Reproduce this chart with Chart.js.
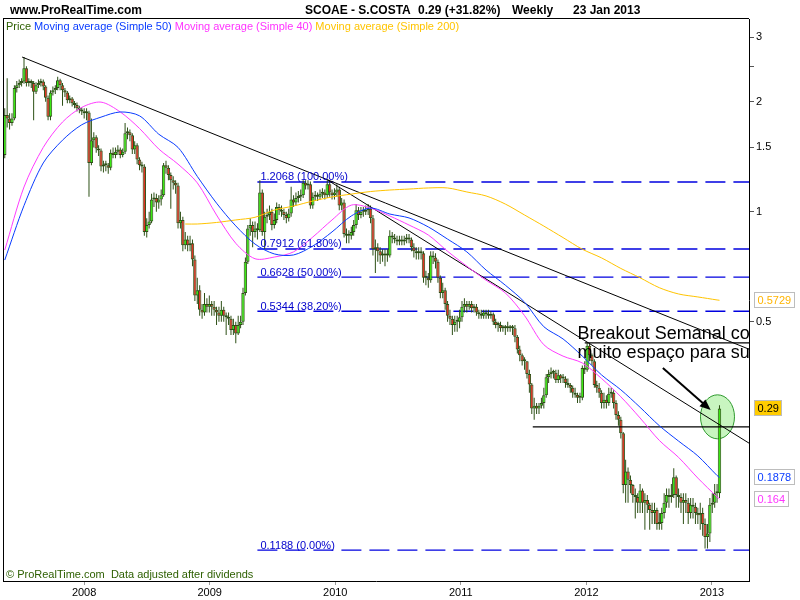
<!DOCTYPE html>
<html>
<head>
<meta charset="utf-8">
<script src="https://cdn.jsdelivr.net/npm/chart.js@4.4.1/dist/chart.umd.min.js"></script>
<style>html,body{margin:0;padding:0;background:#fff}</style>
</head>
<body>
<canvas id="graphCanvas" width="800" height="600"></canvas>
<script>
// weekly bars, last one is 23 Jan 2013
var lastBar = 2013.06;
var firstOpen = 1.43;

var closes = [
 1.84,1.80,1.75,1.80,2.18,2.22,2.25,2.27,2.47,2.25,
 2.27,2.25,2.13,2.22,2.25,2.27,2.20,2.05,1.82,2.12,
 2.15,2.18,2.29,2.22,2.15,2.12,2.02,2.04,1.98,1.96,
 1.92,1.90,1.88,1.86,1.87,1.36,1.57,1.60,1.49,1.47,
 1.33,1.34,1.34,1.32,1.45,1.43,1.46,1.48,1.43,1.46,
 1.64,1.65,1.62,1.48,1.52,1.39,1.34,1.33,0.88,0.92,
 0.94,1.08,1.09,1.06,1.08,1.11,1.34,1.32,1.26,1.22,
 1.20,1.18,0.93,0.95,0.81,0.84,0.81,0.82,0.74,0.59,
 0.61,0.54,0.53,0.56,0.55,0.56,0.55,0.54,0.53,0.52,
 0.54,0.52,0.515,0.51,0.475,0.49,0.465,0.49,0.50,0.60,
 0.73,0.90,0.92,0.88,0.90,0.89,1.13,0.88,0.97,0.98,
 1.00,0.92,0.95,1.03,1.01,1.00,0.98,0.96,0.99,1.08,
 1.06,1.09,1.10,1.11,1.20,1.18,1.19,1.04,1.10,1.11,
 1.10,1.12,1.13,1.11,1.19,1.13,1.11,1.13,1.15,1.04,
 1.06,0.87,0.86,0.86,0.88,0.92,1.01,0.98,1.00,1.00,
 1.01,1.02,0.96,0.79,0.80,0.78,0.76,0.76,0.76,0.76,
 0.86,0.85,0.84,0.83,0.84,0.83,0.84,0.85,0.84,0.80,
 0.78,0.77,0.77,0.77,0.66,0.66,0.65,0.76,0.75,0.73,
 0.66,0.60,0.61,0.56,0.52,0.51,0.49,0.50,0.50,0.515,
 0.55,0.56,0.55,0.56,0.545,0.55,0.53,0.525,0.52,0.53,
 0.525,0.52,0.525,0.50,0.49,0.49,0.48,0.48,0.48,0.48,
 0.48,0.48,0.455,0.42,0.405,0.39,0.39,0.36,0.337,0.29,
 0.295,0.29,0.295,0.30,0.315,0.353,0.36,0.365,0.363,0.347,
 0.357,0.35,0.35,0.34,0.336,0.33,0.32,0.316,0.31,0.31,
 0.374,0.37,0.43,0.405,0.39,0.336,0.33,0.32,0.30,0.306,
 0.30,0.318,0.32,0.30,0.278,0.27,0.248,0.179,0.195,0.185,
 0.179,0.168,0.166,0.16,0.173,0.16,0.163,0.158,0.153,0.15,
 0.153,0.14,0.141,0.15,0.16,0.168,0.166,0.168,0.188,0.168,
 0.166,0.16,0.163,0.16,0.15,0.158,0.156,0.15,0.148,0.15,
 0.14,0.129,0.132,0.158,0.16,0.17,0.17,0.29
];
var highs = [
 1.92,2.32,1.86,1.86,2.22,2.28,2.30,2.32,2.65,2.50,
 2.32,2.30,2.28,2.26,2.30,2.31,2.30,2.22,2.08,2.15,
 2.20,2.22,2.34,2.31,2.25,2.18,2.14,2.08,2.06,2.01,
 1.99,1.95,1.93,1.92,1.92,1.89,1.80,1.65,1.62,1.52,
 1.49,1.38,1.38,1.36,1.48,1.50,1.50,1.52,1.50,1.49,
 1.75,1.70,1.68,1.64,1.56,1.54,1.41,1.37,1.35,0.96,
 1.00,1.12,1.13,1.12,1.11,1.15,1.36,1.38,1.34,1.28,
 1.25,1.22,1.20,1.00,0.97,0.88,0.86,0.86,0.84,0.76,
 0.66,0.63,0.56,0.60,0.58,0.59,0.57,0.57,0.55,0.55,
 0.57,0.55,0.53,0.53,0.52,0.51,0.50,0.52,0.52,0.62,
 0.75,0.92,0.96,0.94,0.94,0.93,1.22,1.15,1.00,1.02,
 1.04,1.02,0.99,1.06,1.05,1.04,1.02,1.00,1.02,1.17,
 1.11,1.13,1.14,1.15,1.22,1.22,1.22,1.21,1.13,1.14,
 1.13,1.15,1.16,1.15,1.22,1.21,1.15,1.16,1.19,1.17,
 1.09,1.08,0.90,0.89,0.91,0.95,1.05,1.03,1.03,1.03,
 1.04,1.05,1.04,0.98,0.84,0.82,0.80,0.79,0.79,0.79,
 0.89,0.88,0.87,0.86,0.86,0.86,0.86,0.87,0.87,0.85,
 0.82,0.80,0.80,0.80,0.78,0.69,0.68,0.78,0.78,0.77,
 0.74,0.67,0.64,0.62,0.57,0.54,0.52,0.52,0.52,0.54,
 0.57,0.58,0.57,0.57,0.57,0.56,0.56,0.54,0.54,0.54,
 0.54,0.54,0.535,0.53,0.51,0.50,0.50,0.49,0.49,0.50,
 0.49,0.49,0.49,0.46,0.43,0.41,0.40,0.39,0.37,0.34,
 0.31,0.30,0.30,0.31,0.33,0.36,0.37,0.375,0.37,0.37,
 0.37,0.36,0.36,0.355,0.35,0.34,0.335,0.33,0.32,0.32,
 0.38,0.39,0.44,0.435,0.41,0.395,0.345,0.34,0.325,0.32,
 0.315,0.33,0.33,0.325,0.305,0.285,0.275,0.25,0.21,0.20,
 0.19,0.18,0.175,0.17,0.18,0.175,0.17,0.168,0.16,0.16,
 0.16,0.155,0.15,0.155,0.17,0.175,0.175,0.18,0.199,0.19,
 0.175,0.17,0.17,0.17,0.165,0.165,0.165,0.16,0.155,0.16,
 0.155,0.145,0.14,0.165,0.17,0.18,0.18,0.296
];
var lows = [
 1.40,1.70,1.68,1.72,1.78,2.12,2.18,2.20,2.24,2.20,
 2.20,2.18,1.78,2.10,2.18,2.20,2.15,2.00,1.78,1.78,
 2.08,2.10,2.15,2.15,1.95,2.06,1.98,1.98,1.94,1.92,
 1.88,1.86,1.84,1.80,1.78,1.10,1.34,1.50,1.45,1.42,
 1.29,1.28,1.29,1.27,1.30,1.40,1.40,1.43,1.40,1.41,
 1.44,1.58,1.56,1.44,1.44,1.35,1.30,1.28,0.86,0.85,
 0.90,0.93,1.03,1.00,1.02,1.04,1.10,1.27,1.22,1.02,
 1.15,1.12,0.90,0.90,0.78,0.79,0.78,0.78,0.71,0.57,
 0.56,0.52,0.51,0.52,0.53,0.53,0.52,0.52,0.49,0.50,
 0.50,0.50,0.46,0.49,0.46,0.46,0.437,0.46,0.48,0.49,
 0.59,0.72,0.86,0.80,0.85,0.84,0.88,0.86,0.79,0.93,
 0.95,0.89,0.90,0.93,0.98,0.97,0.95,0.93,0.94,0.97,
 1.03,1.04,1.06,1.07,1.09,1.15,1.15,1.02,1.02,1.07,
 1.07,1.08,1.09,1.08,1.09,1.10,1.08,1.08,1.10,1.01,
 1.01,0.85,0.82,0.82,0.84,0.86,0.90,0.95,0.96,0.97,
 0.98,0.98,0.93,0.76,0.68,0.73,0.72,0.73,0.71,0.73,
 0.75,0.82,0.82,0.81,0.81,0.81,0.81,0.82,0.82,0.78,
 0.75,0.74,0.74,0.74,0.64,0.63,0.62,0.64,0.72,0.70,
 0.64,0.58,0.58,0.54,0.50,0.49,0.46,0.47,0.47,0.48,
 0.50,0.53,0.53,0.54,0.53,0.53,0.52,0.51,0.51,0.51,
 0.51,0.51,0.51,0.49,0.48,0.47,0.47,0.47,0.46,0.47,
 0.47,0.46,0.44,0.41,0.39,0.38,0.37,0.35,0.32,0.28,
 0.27,0.28,0.28,0.29,0.29,0.31,0.34,0.35,0.35,0.34,
 0.34,0.34,0.34,0.33,0.33,0.32,0.31,0.31,0.30,0.30,
 0.305,0.36,0.365,0.39,0.38,0.33,0.32,0.31,0.29,0.29,
 0.29,0.295,0.31,0.29,0.27,0.26,0.24,0.17,0.16,0.16,
 0.17,0.16,0.145,0.15,0.15,0.15,0.135,0.15,0.135,0.14,
 0.14,0.135,0.135,0.135,0.145,0.155,0.155,0.16,0.165,0.155,
 0.155,0.15,0.14,0.15,0.14,0.145,0.145,0.14,0.14,0.135,
 0.13,0.12,0.12,0.125,0.15,0.155,0.16,0.165
];

// moving averages, every 8th bar
var maIdx = [0,8,16,24,32,40,48,56,64,72,80,88,96,104,112,120,128,136,144,152,
  160,168,176,184,192,200,208,216,224,232,240,248,256,264,272,280,288,296,297];
var ma50 = [0.738,1.04,1.36,1.57,1.73,1.815,1.875,1.83,1.63,1.50,1.25,1.056,0.915,0.816,0.767,0.762,0.806,0.881,0.974,1.024,
  0.986,0.962,0.909,0.842,0.777,0.693,0.63,0.566,0.485,0.449,0.403,0.358,0.326,0.292,0.26,0.236,0.215,0.19,0.1878];
var ma40 = [0.786,1.169,1.50,1.76,1.93,1.995,1.875,1.69,1.485,1.35,1.20,0.98,0.82,0.744,0.752,0.777,0.853,0.95,1.043,1.024,
  0.974,0.92,0.864,0.78,0.71,0.65,0.60,0.52,0.433,0.403,0.386,0.35,0.312,0.273,0.237,0.213,0.187,0.166,0.164];
var ma200Idx = [75,80,88,96,104,112,120,128,136,144,152,160,168,176,184,192,200,208,216,224,232,240,248,256,264,272,280,288,296,297];
var ma200 = [0.926,0.926,0.935,0.95,0.966,1.011,1.037,1.07,1.098,1.118,1.136,1.147,1.154,1.162,1.162,1.133,1.105,1.05,0.98,0.914,
  0.85,0.79,0.748,0.70,0.66,0.62,0.596,0.585,0.574,0.5729];

var fibLevels = [1.2068, 0.7912, 0.6628, 0.5344, 0.1188];
var fibPct = ['100.00%', '61.80%', '50.00%', '38.20%', '0.00%'];
var fibStart = 2009.38;

var yTicks = [0.5, 1, 1.5, 2, 2.5, 3];
var yTickLabels = ['0.5', '1', '1.5', '2', '', '3'];
var xTicks = [2008, 2009, 2010, 2011, 2012, 2013];

var xMin = 2007.354, xMax = 2013.295;
var yMin = 0.0978, yMax = 3.367;

// drawn lines: [x1, y1, x2, y2]
var trendLong = [2007.506, 2.65, xMax, 0.421];
var trendShort = [2009.938, 1.222, xMax, 0.233];
var supportLine = [2011.573, 0.258, xMax, 0.258];
var noteRule = [2011.987, 0.438, xMax, 0.438];
var arrowLine = [2012.609, 0.374, 2012.99, 0.287];
var circleLevel = 0.275;
var noteAt = [2011.93, 0.448];
var noteLines = ['Breakout Semanal com', 'muito espa\u00e7o para subir'];

var upColor = '#3ae812', downColor = '#de3424', edgeColor = '#2d5016';
var FONT = '"Liberation Sans", Arial, sans-serif';
var NARROW = '"Liberation Sans Narrow", "Arial Narrow", "Liberation Sans", sans-serif';

function barYear(i) {
    return lastBar - (closes.length - 1 - i) * 7 / 365.25;
}

function showGraph()
{
    var bodies = [], wicks = [];
    for (var i = 0; i < closes.length; i++) {
        var open = i === 0 ? firstOpen : closes[i - 1];
        bodies.push({x: barYear(i), y: [open, closes[i]]});
        wicks.push({x: barYear(i), y: [lows[i], highs[i]]});
    }
    var pts50 = [], pts40 = [], pts200 = [];
    for (var k = 0; k < maIdx.length; k++) {
        pts50.push({x: barYear(maIdx[k]), y: ma50[k]});
        pts40.push({x: barYear(maIdx[k]), y: ma40[k]});
    }
    for (k = 0; k < ma200Idx.length; k++) {
        pts200.push({x: barYear(ma200Idx[k]), y: ma200[k]});
    }

    function seg(s, color, width, dash, order) {
        return {
            type: 'line',
            data: [{x: s[0], y: s[1]}, {x: s[2], y: s[3]}],
            borderColor: color, borderWidth: width, borderDash: dash || [],
            pointRadius: 0, fill: false, tension: 0, order: order
        };
    }
    function maLine(pts, color) {
        return {type: 'line', data: pts, borderColor: color, borderWidth: 1,
            pointRadius: 0, fill: false, tension: 0.3, order: 0};
    }

    var datasets = [
        {
            label: 'wicks', data: wicks, backgroundColor: edgeColor, borderWidth: 0,
            barThickness: 1, grouped: false, inflateAmount: 0, order: 2
        },
        {
            label: 'Price', data: bodies,
            backgroundColor: function (c) {
                var d = c.raw;
                return d && d.y[1] >= d.y[0] ? upColor : downColor;
            },
            borderColor: edgeColor, borderWidth: 1, borderSkipped: false,
            barThickness: 3.4, minBarLength: 2, grouped: false, inflateAmount: 0, order: 1
        },
        maLine(pts50, '#0a3cff'),
        maLine(pts40, '#ff3cff'),
        maLine(pts200, '#ffc400'),
        seg(trendLong, '#000', 1, null, 0),
        seg(trendShort, '#000', 1, null, 0),
        seg(supportLine, '#000', 1.2, null, 0),
        seg(noteRule, '#000', 1.2, null, 0)
    ];
    fibLevels.forEach(function (v) {
        datasets.push(seg([fibStart, v, xMax, v], '#0000e0', 1.4, [20, 8], 3));
    });

    var decor = {
        id: 'decor',
        beforeDraw: function (chart) {
            var c = chart.ctx;
            c.save();
            c.fillStyle = '#fff';
            c.fillRect(0, 0, chart.width, chart.height);
            c.restore();
        },
        beforeDatasetsDraw: function (chart) {
            var c = chart.ctx, xs = chart.scales.x, ys = chart.scales.y;
            var ex = xs.getPixelForValue(barYear(closes.length - 1));
            var ey = ys.getPixelForValue(circleLevel);
            c.save();
            c.beginPath();
            c.ellipse(ex - 2, ey, 17, 22, 0, 0, Math.PI * 2);
            c.fillStyle = '#c8f5c0';
            c.fill();
            c.strokeStyle = '#2f9a2f';
            c.lineWidth = 1;
            c.stroke();
            c.restore();
        },
        afterDatasetsDraw: function (chart) {
            var c = chart.ctx, a = chart.chartArea, xs = chart.scales.x, ys = chart.scales.y;
            c.save();
            c.beginPath();
            c.rect(a.left, a.top, a.right - a.left, a.bottom - a.top);
            c.clip();

            c.font = '11px ' + FONT;
            c.fillStyle = '#0000cc';
            c.textBaseline = 'alphabetic';
            fibLevels.forEach(function (v, k) {
                c.fillText(v.toFixed(4) + ' (' + fibPct[k] + ')',
                    xs.getPixelForValue(fibStart) + 3, ys.getPixelForValue(v) - 1.5);
            });

            // arrow
            var x1 = xs.getPixelForValue(arrowLine[0]), y1 = ys.getPixelForValue(arrowLine[1]);
            var x2 = xs.getPixelForValue(arrowLine[2]), y2 = ys.getPixelForValue(arrowLine[3]);
            var ang = Math.atan2(y2 - y1, x2 - x1);
            c.strokeStyle = '#000';
            c.lineWidth = 2;
            c.beginPath();
            c.moveTo(x1, y1);
            c.lineTo(x2 - 8 * Math.cos(ang), y2 - 8 * Math.sin(ang));
            c.stroke();
            c.fillStyle = '#000';
            c.beginPath();
            c.moveTo(x2, y2);
            c.lineTo(x2 - 11 * Math.cos(ang) + 4.5 * Math.sin(ang), y2 - 11 * Math.sin(ang) - 4.5 * Math.cos(ang));
            c.lineTo(x2 - 11 * Math.cos(ang) - 4.5 * Math.sin(ang), y2 - 11 * Math.sin(ang) + 4.5 * Math.cos(ang));
            c.closePath();
            c.fill();

            c.font = '18px ' + FONT;
            c.fillStyle = '#000';
            var tx = xs.getPixelForValue(noteAt[0]), ty = ys.getPixelForValue(noteAt[1]);
            c.fillText(noteLines[0], tx, ty);
            c.fillText(noteLines[1], tx, ty + 19);
            c.restore();
        },
        afterDraw: function (chart) {
            var c = chart.ctx, a = chart.chartArea, ys = chart.scales.y;
            c.save();
            c.strokeStyle = '#000';
            c.lineWidth = 1;
            c.beginPath();
            c.moveTo(a.left + 0.5, a.top);
            c.lineTo(a.left + 0.5, a.bottom);
            c.moveTo(a.left, a.top - 0.5);
            c.lineTo(a.right, a.top - 0.5);
            c.stroke();

            // title row
            c.fillStyle = '#000';
            c.textBaseline = 'alphabetic';
            c.font = 'bold 12px ' + FONT;
            c.fillText('www.ProRealTime.com', 10, 14);
            c.fillText('SCOAE - S.COSTA', 305, 14);
            c.fillText(closes[closes.length - 1] + ' (+31.82%)', 418, 14);
            c.fillText('Weekly', 512, 14);
            c.fillText('23 Jan 2013', 573, 14);

            // legend inside plot
            c.font = '11px ' + FONT;
            var lx = 6;
            [['Price', '#2d5f00'], ['Moving average (Simple 50)', '#0a3cff'],
             ['Moving average (Simple 40)', '#ff33ff'], ['Moving average (Simple 200)', '#ffc400']
            ].forEach(function (p) {
                c.fillStyle = p[1];
                c.fillText(p[0], lx, 30);
                lx += c.measureText(p[0] + ' ').width;
            });

            c.font = '11px ' + NARROW;
            c.fillStyle = '#2d5f00';
            c.fillText('\u00a9 ProRealTime.com  Data adjusted after dividends', 6, 578);

            // last values on the price axis
            var boxes = [
                [ma200[ma200.length - 1], '#ffb400', '#fff'],
                [closes[closes.length - 1], '#000', '#ffcc00'],
                [ma50[ma50.length - 1], '#0a3cff', '#fff'],
                [ma40[ma40.length - 1], '#ff33ff', '#fff']
            ];
            c.font = '11px ' + FONT;
            c.textBaseline = 'middle';
            boxes.forEach(function (b) {
                var y = Math.round(ys.getPixelForValue(b[0]));
                var txt = String(b[0]);
                var w = Math.round(c.measureText(txt).width) + 6;
                c.fillStyle = b[2];
                c.fillRect(754.5, y - 7.5, w, 15);
                c.strokeStyle = '#bdbdbd';
                c.strokeRect(754.5, y - 7.5, w, 15);
                c.fillStyle = b[1];
                c.fillText(txt, 757.5, y + 0.5);
            });
            c.restore();
        }
    };

    var graphTarget = document.getElementById('graphCanvas');
    Chart.defaults.font.family = FONT;
    new Chart(graphTarget, {
        type: 'bar',
        data: {datasets: datasets},
        options: {
            responsive: false,
            animation: false,
            layout: {padding: {top: 19, left: 3, right: 0, bottom: 0}},
            plugins: {legend: {display: false}, tooltip: {enabled: false}},
            scales: {
                x: {
                    type: 'linear', min: xMin, max: xMax, offset: false, bounds: 'data',
                    grid: {display: true, drawOnChartArea: false, drawTicks: true, tickLength: 4, color: '#9a9a9a', offset: false},
                    border: {display: true, color: '#000', width: 1},
                    ticks: {
                        autoSkip: false, maxRotation: 0, padding: 1, color: '#000',
                        font: {size: 11},
                        callback: function (v) { return String(v); }
                    },
                    afterBuildTicks: function (s) {
                        s.ticks = xTicks.map(function (v) { return {value: v}; });
                    },
                    afterFit: function (s) { s.height = 19; }
                },
                y: {
                    type: 'logarithmic', position: 'right', min: yMin, max: yMax, bounds: 'data',
                    grid: {display: true, drawOnChartArea: false, drawTicks: true, tickLength: 5, color: '#555'},
                    border: {display: true, color: '#000', width: 1},
                    ticks: {
                        autoSkip: false, padding: 2, color: '#000', font: {size: 11},
                        callback: function (v, idx) { return yTickLabels[idx]; }
                    },
                    afterBuildTicks: function (s) {
                        s.ticks = yTicks.map(function (v) { return {value: v}; });
                    },
                    afterFit: function (s) { s.width = 51; }
                }
            }
        },
        plugins: [decor]
    });
}

showGraph();
</script>
</body>
</html>
